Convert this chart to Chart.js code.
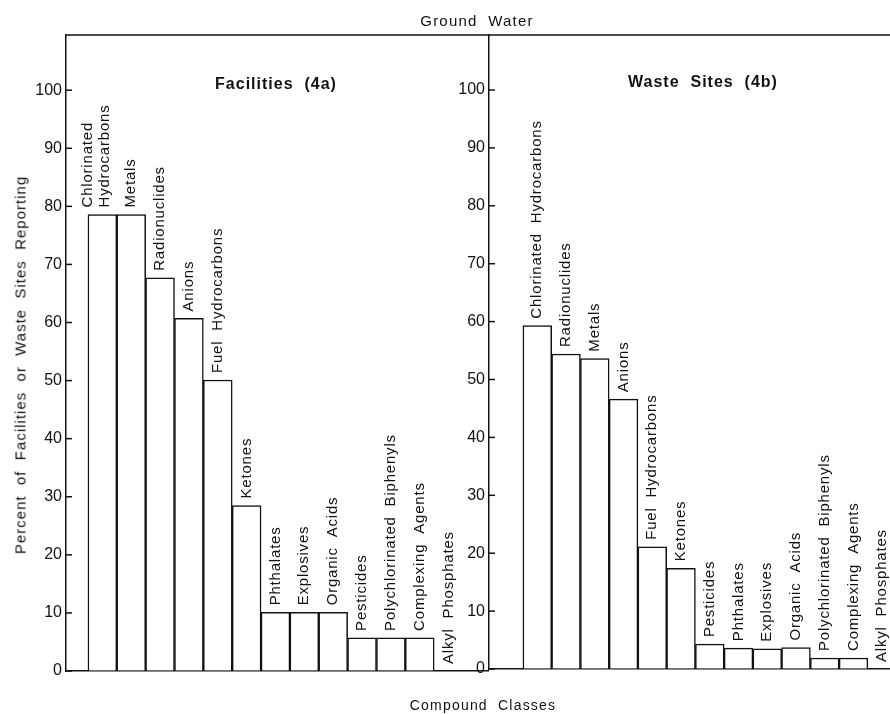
<!DOCTYPE html>
<html>
<head>
<meta charset="utf-8">
<script src="https://cdn.jsdelivr.net/npm/chart.js@4.4.1/dist/chart.umd.min.js"></script>
<style>
  html, body { margin: 0; padding: 0; background: #fff; }
  #wrap { position: relative; width: 890px; height: 714px; overflow: hidden; font-family: "Liberation Sans", Arial, sans-serif; color: #111; }
  .box { position: absolute; top: 0; height: 714px; }
  .txt { position: absolute; white-space: nowrap; transform: translate(-50%, -50%); }
  #yTitle { transform: translate(-50%, -50%) rotate(-90deg); }
</style>
</head>
<body>
<div id="wrap">
  <div class="box" style="left:0; width:489px;"><canvas id="leftChart"></canvas></div>
  <div class="box" style="left:440px; width:450px;"><canvas id="rightChart"></canvas></div>
  <div class="txt" style="left:477px; top:20px; font-size:15px; letter-spacing:1.2px;">Ground&nbsp; Water</div>
  <div class="txt" style="left:276px; top:84px; font-size:16px; font-weight:bold; letter-spacing:1px;">Facilities&nbsp; (4a)</div>
  <div class="txt" style="left:703px; top:82px; font-size:16px; font-weight:bold; letter-spacing:1px;">Waste&nbsp; Sites&nbsp; (4b)</div>
  <div class="txt" style="left:483px; top:705px; font-size:14px; letter-spacing:1.2px;">Compound&nbsp; Classes</div>
  <div class="txt" id="yTitle" style="left:20px; top:365px; font-size:15px; letter-spacing:1px;">Percent&nbsp; of&nbsp; Facilities&nbsp; or&nbsp; Waste&nbsp; Sites&nbsp; Reporting</div>
</div>
<script>
// 시설 (4a)
const leftCategories = ['Chlorinated\nHydrocarbons', 'Metals', 'Radionuclides', 'Anions', 'Fuel  Hydrocarbons',
    'Ketones', 'Phthalates', 'Explosives', 'Organic  Acids', 'Pesticides',
    'Polychlorinated  Biphenyls', 'Complexing  Agents', 'Alkyl  Phosphates'];
const leftValues = [78.6, 78.6, 67.7, 60.7, 50.1, 28.5, 10.1, 10.1, 10.1, 5.7, 5.7, 5.7, 0];

// 폐기물 부지 (4b)
const rightCategories = ['Chlorinated  Hydrocarbons', 'Radionuclides', 'Metals', 'Anions', 'Fuel  Hydrocarbons',
    'Ketones', 'Pesticides', 'Phthalates', 'Explosives', 'Organic  Acids',
    'Polychlorinated  Biphenyls', 'Complexing  Agents', 'Alkyl  Phosphates'];
const rightValues = [59.3, 54.4, 53.6, 46.6, 21.1, 17.4, 4.3, 3.6, 3.5, 3.7, 1.9, 1.9, 0];

const yTicks = [0, 10, 20, 30, 40, 50, 60, 70, 80, 90, 100];
const ink = '#111111';

// 막대 위 세로 라벨 + 안쪽 눈금 + 위쪽 테두리
const decorPlugin = {
    id: 'decor',
    afterDatasetsDraw(chart, args, opts) {
        const ctx = chart.ctx;
        const area = chart.chartArea;
        const yScale = chart.scales.y;
        ctx.save();
        ctx.strokeStyle = ink;
        ctx.lineWidth = 1.5;
        // top frame line
        ctx.beginPath();
        ctx.moveTo(area.left, area.top);
        ctx.lineTo(chart.width, area.top);
        ctx.stroke();
        // inward tick marks
        yTicks.forEach(v => {
            const y = yScale.getPixelForValue(v);
            ctx.beginPath();
            ctx.moveTo(area.left, y);
            ctx.lineTo(area.left + 6, y);
            ctx.stroke();
        });
        // labels
        ctx.fillStyle = ink;
        ctx.font = '15px "Liberation Sans", Arial, sans-serif';
        ctx.letterSpacing = '0.8px';
        ctx.textAlign = 'left';
        ctx.textBaseline = 'middle';
        const meta = chart.getDatasetMeta(0);
        meta.data.forEach((bar, i) => {
            const lines = opts.labels[i].split('\n');
            const lineGap = 17;
            const shift = lines.length > 1 ? -6 : 0;
            lines.forEach((line, j) => {
                const x = bar.x + shift + (j - (lines.length - 1) / 2) * lineGap;
                ctx.save();
                ctx.translate(x, bar.y - 7);
                ctx.rotate(-Math.PI / 2);
                ctx.fillText(line, 0, 0);
                ctx.restore();
            });
        });
        ctx.restore();
    }
};

function createPanel(canvasId, categories, values, axisWidth, bottomHeight, xMin, xMax) {
    const canvas = document.getElementById(canvasId);
    const points = values.map((v, i) => ({ x: i + 1, y: v }));
    return new Chart(canvas, {
        type: 'bar',
        data: {
            datasets: [{
                data: points,
                backgroundColor: '#ffffff',
                borderColor: ink,
                borderWidth: 1.5,
                barPercentage: 1,
                categoryPercentage: 1
            }]
        },
        options: {
            responsive: true,
            maintainAspectRatio: false,
            animation: false,
            layout: { padding: { top: 35, left: 0, right: 0, bottom: 0 } },
            plugins: {
                legend: { display: false },
                tooltip: { enabled: false },
                decor: { labels: categories }
            },
            scales: {
                x: {
                    type: 'linear',
                    offset: false,
                    min: xMin,
                    max: xMax,
                    ticks: { display: false },
                    grid: { display: false },
                    border: { display: true, color: ink, width: 1.5 },
                    afterFit(scale) { scale.height = bottomHeight; }
                },
                y: {
                    min: 0,
                    max: 109.5,
                    afterBuildTicks(scale) {
                        scale.ticks = yTicks.map(v => ({ value: v }));
                    },
                    ticks: {
                        color: ink,
                        padding: 4,
                        font: { family: '"Liberation Sans", Arial, sans-serif', size: 16 }
                    },
                    grid: { drawOnChartArea: false, drawTicks: false },
                    border: { display: true, color: ink, width: 1.5 },
                    afterFit(scale) { scale.width = axisWidth; }
                }
            }
        },
        plugins: [decorPlugin]
    });
}

createPanel('leftChart', leftCategories, leftValues, 66, 43, -0.26, 14.4);
createPanel('rightChart', rightCategories, rightValues, 49, 45, -0.68, 13.27);
</script>
</body>
</html>
